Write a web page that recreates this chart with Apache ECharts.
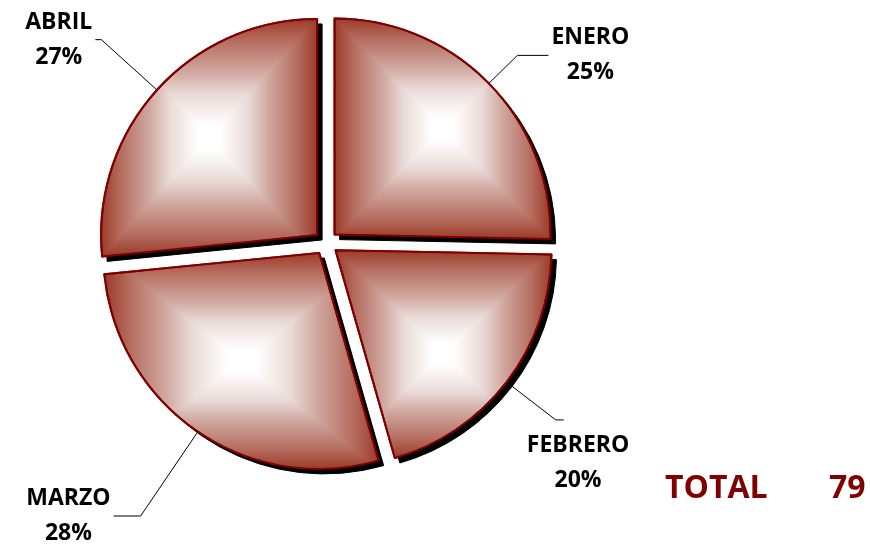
<!DOCTYPE html>
<html>
<head>
<meta charset="utf-8">
<script src="https://cdn.jsdelivr.net/npm/echarts@6/dist/echarts.min.js"></script>
<style>
html,body{margin:0;padding:0;background:#fff;}
#chart{width:870px;height:544px;}
</style>
</head>
<body>
<div id="chart"></div>
<script>
var categories = ['ENERO', 'FEBRERO', 'MARZO', 'ABRIL'];
var values = [20, 16, 22, 21];
var lineLengths = [40, 62, 102, 75];
var lineLengths2 = [31, 8, 27, 6];
var totalLabel = 'TOTAL';

var FONT = 'Open Sans';
function grad(horizontal) {
  return {
    type: 'linear', x: 0, y: 0, x2: horizontal ? 1 : 0, y2: horizontal ? 0 : 1,
    colorStops: [
      { offset: 0, color: '#9a3826' },
      { offset: 0.09, color: '#b46a5c' },
      { offset: 0.23, color: '#d1aaa2' },
      { offset: 0.32, color: '#e9dad7' },
      { offset: 0.45, color: '#ffffff' },
      { offset: 0.55, color: '#ffffff' },
      { offset: 0.68, color: '#e9dad7' },
      { offset: 0.77, color: '#d1aaa2' },
      { offset: 0.91, color: '#b46a5c' },
      { offset: 1, color: '#9a3826' }
    ]
  };
}
var total = values.reduce(function (a, b) { return a + b; }, 0);

function makeData(kind) {
  return categories.map(function (c, i) {
    var col = kind === 'shadow' ? '#000' : grad(kind === 'h');
    return {
      name: c,
      value: values[i],
      selected: true,
      itemStyle: { color: col },
      select: { itemStyle: { color: col } },
      labelLine: { length: lineLengths[i], length2: lineLengths2[i] }
    };
  });
}

var CENTER = [326, 243];
var R = 216;
function baseSeries(kind, z) {
  var isShadow = kind === 'shadow';
  return {
    type: 'pie',
    z: z,
    center: isShadow ? [CENTER[0] + 5, CENTER[1] + 5] : CENTER,
    radius: [0, R],
    startAngle: 90,
    clockwise: true,
    selectedMode: 'multiple',
    selectedOffset: 12,
    percentPrecision: 0,
    avoidLabelOverlap: false,
    silent: true,
    emphasis: { disabled: true },
    itemStyle: isShadow ? { borderWidth: 1, borderColor: '#000' } : { borderColor: '#800000', borderWidth: 2 },
    label: { show: false },
    labelLine: { show: false },
    data: makeData(kind)
  };
}

var sShadow = baseSeries('shadow', 1);
var sH = baseSeries('h', 2);
var sV = baseSeries('v', 3);
sH.label = {
  show: true,
  position: 'outside',
  alignTo: 'none',
  distanceToLabelLine: 3,
  formatter: '{n|{b}}\n{p|{d}%}',
  rich: {
    n: { align: 'center', fontSize: 23, fontWeight: 'bold', fontFamily: FONT, color: '#000', lineHeight: 35 },
    p: { align: 'center', fontSize: 23, fontWeight: 'bold', fontFamily: FONT, color: '#000', lineHeight: 35 }
  }
};
sH.labelLine = { show: true, lineStyle: { color: '#000', width: 1 } };
sH.labelLayout = function (p) {
  if (p.dataIndex === 1) { return { dx: -40, dy: 43 }; }
};

var chart = echarts.init(document.getElementById('chart'));
chart.setOption({
  animation: false,
  series: [sShadow, sH, sV],
  graphic: [
    { type: 'text', left: 665, top: 473, style: { text: totalLabel, font: 'bold 32px ' + FONT, fill: '#800000' } },
    { type: 'text', left: 829, top: 473, style: { text: String(total), font: 'bold 32px ' + FONT, fill: '#800000' } }
  ]
});

// combine the two gradients with a "darken" blend to get a rectangular gradient
(function () {
  var sd = chart.getModel().getSeriesByIndex(2).getData();
  sd.each(function (idx) {
    var el = sd.getItemGraphicEl(idx);
    if (el) { el.style.blend = 'darken'; el.dirty(); }
  });
  chart.getZr().refreshImmediately();
})();
</script>
</body>
</html>
